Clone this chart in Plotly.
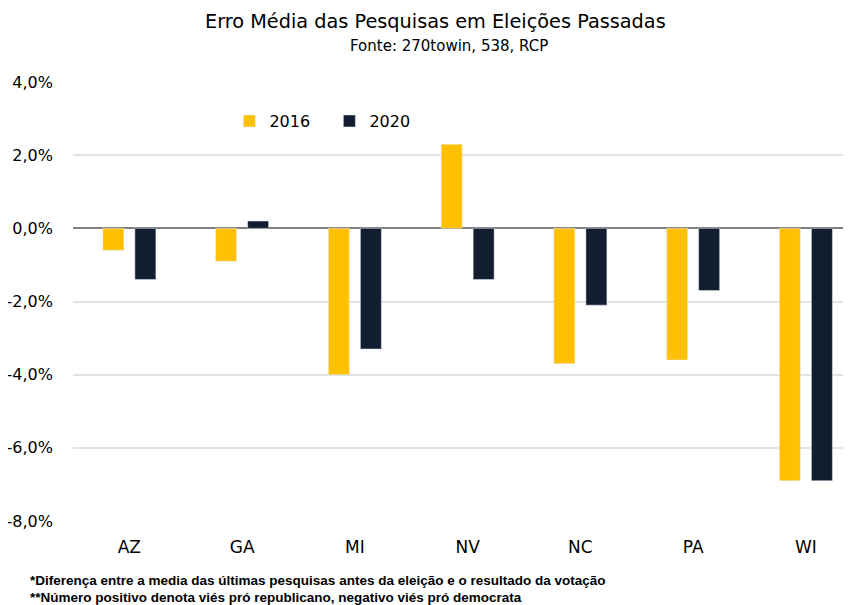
import plotly.graph_objects as go

states = ["AZ", "GA", "MI", "NV", "NC", "PA", "WI"]
err_2016 = [-0.6, -0.9, -4.0, 2.3, -3.7, -3.6, -6.9]
err_2020 = [-1.4, 0.2, -3.3, -1.4, -2.1, -1.7, -6.9]
y_ticks = [4, 2, 0, -2, -4, -6, -8]
y_tick_labels = ["4,0%", "2,0%", "0,0%", "-2,0%", "-4,0%", "-6,0%", "-8,0%"]

FONT = "DejaVu Sans"
NOTE_FONT = "Liberation Sans"

# page body has an 8px default margin; size the figure to fill the rest
W, H = 843, 597

fig = go.Figure()
fig.add_trace(go.Bar(x=states, y=err_2016, name="2016", marker_color="#FFC000"))
fig.add_trace(go.Bar(x=states, y=err_2020, name="2020", marker_color="#121E2F"))

fig.update_layout(
    width=W, height=H,
    paper_bgcolor="white", plot_bgcolor="white",
    margin=dict(l=65, r=0, t=74, b=84, autoexpand=False),
    barmode="group", bargap=0.432, bargroupgap=0.344,
    font=dict(family=FONT, color="#000000"),
    legend=dict(
        orientation="h", x=0.201, y=0.911, xanchor="left", yanchor="middle",
        font=dict(size=16, family=FONT), bgcolor="rgba(0,0,0,0)",
        itemwidth=30, entrywidth=55, traceorder="normal", itemclick=False,
    ),
    showlegend=True,
)
fig.update_xaxes(
    range=[-0.5, 6.4], showgrid=False, showline=False, ticks="",
    tickfont=dict(size=17, family=FONT), ticklabelstandoff=14, automargin=False,
)
fig.update_yaxes(
    range=[-8, 4], tickvals=y_ticks, ticktext=y_tick_labels,
    showgrid=True, gridcolor="#E3E3E3", gridwidth=1.5,
    zeroline=True, zerolinecolor="#808080", zerolinewidth=1.5,
    tickfont=dict(size=16, family=FONT), ticklabelstandoff=19, automargin=False,
)
fig.add_annotation(
    text="Erro Média das Pesquisas em Eleições Passadas",
    xref="paper", yref="paper", x=(435 - 73) / 778, y=(521 - 22) / 439,
    xanchor="center", yanchor="middle", showarrow=False,
    font=dict(size=19.3, family=FONT, color="#000000"),
)
fig.add_annotation(
    text="Fonte: 270towin, 538, RCP",
    xref="paper", yref="paper", x=(449 - 73) / 778, y=(521 - 46) / 439,
    xanchor="center", yanchor="middle", showarrow=False,
    font=dict(size=15, family=FONT, color="#000000"),
)
fig.add_annotation(
    text="<b>*Diferença entre a media das últimas pesquisas antes da eleição e o resultado da votação</b>",
    xref="paper", yref="paper", x=(28 - 73) / 778, y=(521 - 580) / 439,
    xanchor="left", yanchor="middle",
    showarrow=False, font=dict(size=13.5, family=NOTE_FONT),
)
fig.add_annotation(
    text="<b>**Número positivo denota viés pró republicano, negativo viés pró democrata</b>",
    xref="paper", yref="paper", x=(28 - 73) / 778, y=(521 - 597) / 439,
    xanchor="left", yanchor="middle",
    showarrow=False, font=dict(size=13.5, family=NOTE_FONT),
)
fig.write_html("out.html")
